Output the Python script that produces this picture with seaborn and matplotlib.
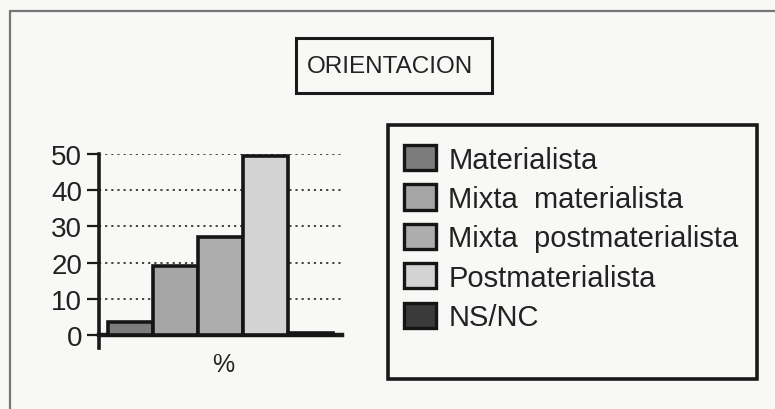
import matplotlib
matplotlib.use('Agg')
import matplotlib.pyplot as plt
from matplotlib.patches import Rectangle, Patch
from matplotlib.lines import Line2D
import seaborn as sns

# --- Data ---
categorias = ['Materialista', 'Mixta  materialista', 'Mixta  postmaterialista',
              'Postmaterialista', 'NS/NC']
porcentajes = [3.5, 19, 27, 49.5, 0.5]
colores = ['#7c7c7c', '#a6a6a6', '#adadad', '#d3d3d3', '#3a3a3a']
ticks_y = [0, 10, 20, 30, 40, 50]
titulo = 'ORIENTACION'
etiqueta_x = '%'

sns.set_theme(style='white')
plt.rcParams['font.family'] = ['Liberation Sans', 'DejaVu Sans']

W, H = 775, 410
fig = plt.figure(figsize=(W / 100, H / 100), dpi=100)
fig.patch.set_facecolor('#f8f8f6')

# axes placed in pixel terms (y axis at x=99, 50 at y=155, axis bottom y=349)
ax = fig.add_axes([99 / W, (H - 349) / H, (342 - 99) / W, (349 - 155) / H])
ax.set_facecolor('none')

sns.barplot(x=categorias, y=porcentajes, hue=categorias, palette=colores,
            width=1.0, edgecolor='#151515', linewidth=2.6, legend=False,
            saturation=1, ax=ax, zorder=3)

ax.set_xlim(-0.7, 4.7)
ax.set_ylim(-3.6, 50)
ax.set_yticks(ticks_y)
ax.set_yticklabels([str(t) for t in ticks_y])
ax.set_xticks([])
ax.set_xlabel('')
ax.set_ylabel('')
ax.yaxis.grid(True, linestyle=(0, (1.2, 2.2)), color='#333333', linewidth=1.3)
ax.set_axisbelow(True)
for s in ['top', 'right']:
    ax.spines[s].set_visible(False)
ax.spines['left'].set_linewidth(2.6)
ax.spines['left'].set_color('#1a1a1a')
ax.spines['bottom'].set_position(('data', 0))
ax.spines['bottom'].set_linewidth(3.2)
ax.spines['bottom'].set_color('#1a1a1a')
ax.tick_params(axis='y', direction='out', length=9, width=1.6, color='#1a1a1a',
               labelsize=20, labelcolor='#222222', pad=3, left=True)

fig.text(223 / W, 1 - 365 / H, etiqueta_x, ha='center', va='center',
         fontsize=18, color='#222222')

# outer frame (left and top edges visible)
fig.add_artist(Line2D([10 / W, 10 / W], [0, 1 - 12 / H], transform=fig.transFigure,
                      color='#777777', lw=1.6))
fig.add_artist(Line2D([10 / W, 1], [1 - 12 / H, 1 - 12 / H], transform=fig.transFigure,
                      color='#777777', lw=1.6))

# title box
fig.add_artist(Rectangle((296 / W, 1 - 94 / H), (492 - 296) / W, (94 - 39) / H,
                         transform=fig.transFigure, fill=False, ec='#1a1a1a', lw=2.2))
fig.text(390 / W, 1 - 67 / H, titulo, ha='center', va='center',
         fontsize=17.5, color='#222222')

# legend box
fig.add_artist(Rectangle((388 / W, 1 - 380 / H), (757 - 388) / W, (380 - 126) / H,
                         transform=fig.transFigure, fill=False, ec='#1a1a1a', lw=2.6))
handles = [Patch(facecolor=c, edgecolor='#151515', linewidth=2.4) for c in colores]
leg = fig.legend(handles, categorias, loc='upper left',
                 bbox_to_anchor=(404 / W, 1 - 146 / H), frameon=False,
                 fontsize=21, handlelength=1.1, handleheight=0.95,
                 handletextpad=0.42, labelspacing=0.37, borderpad=0,
                 borderaxespad=0)
for t in leg.get_texts():
    t.set_color('#222222')

fig.savefig('out.png', dpi=100, facecolor=fig.get_facecolor())
